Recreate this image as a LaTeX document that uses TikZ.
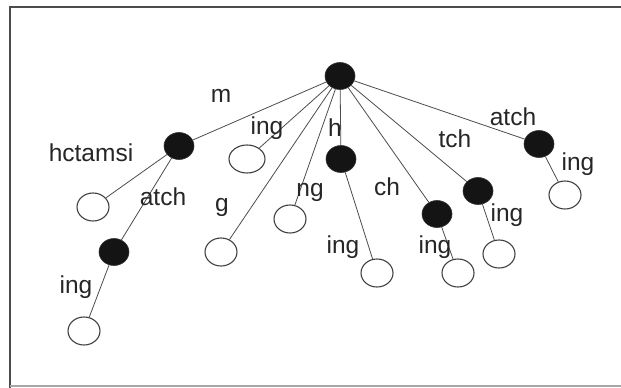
\documentclass[tikz,border=0pt]{standalone}
\usepackage{fontspec}
\setmainfont{Liberation Sans}
\usetikzlibrary{shapes.geometric}
\begin{document}
\begin{tikzpicture}[x=1pt,y=-1pt,
  full/.style={ellipse,fill=black!92,draw=black!80,line width=0.6pt,
    minimum width=30pt,minimum height=27pt,inner sep=0pt},
  leaf/.style={ellipse,fill=white,draw=black!75,line width=1.1pt,
    minimum width=32pt,minimum height=28pt,inner sep=0pt},
  lbl/.style={inner sep=0pt,text=black!85,font=\fontsize{24.5}{29}\selectfont},
  edge/.style={draw=black!70,line width=0.8pt}]
\useasboundingbox (0,0) rectangle (621,388);
% frame
\draw[black!70,line width=1.8pt] (10,388) -- (10,7) -- (621,7);
\draw[black!35,line width=1.5pt] (10,386) -- (621,386);

% branching nodes
\node[full] (root) at (340,76) {};
\node[full] (hc) at (179,146) {};
\node[full] (hca) at (114,252) {};
\node[full] (h) at (341,159) {};
\node[full] (ch) at (437,214) {};
\node[full] (tch) at (478,191) {};
\node[full] (atch) at (539,144) {};

% leaves
\node[leaf] (hcl) at (93,207) {};
\node[leaf] (hcal) at (84,331) {};
\node[leaf,minimum width=36pt] (ingl) at (247,159) {};
\node[leaf] (gl) at (221,252) {};
\node[leaf] (ngl) at (290,219) {};
\node[leaf] (hl) at (377,273) {};
\node[leaf] (chl) at (458,273) {};
\node[leaf] (tchl) at (499,254) {};
\node[leaf] (atchl) at (565,195) {};

% connectors
\foreach \t in {hc,ingl,gl,ngl,h,ch,tch,atch}
  \path[edge] (root) -- (\t);
\path[edge] (hc) -- (hcl);
\path[edge] (hc) -- (hca);
\path[edge] (hca) -- (hcal);
\path[edge] (h) -- (hl);
\path[edge] (ch) -- (chl);
\path[edge] (tch) -- (tchl);
\path[edge] (atch) -- (atchl);

% labels
\node[lbl] (tm) at (221,96) {m};
\node[lbl] (thc) at (91,153) {hctamsi};
\node[lbl] (ting1) at (267,128) {ing};
\node[lbl] (th) at (335,128) {h};
\node[lbl] (tatch1) at (163,197) {atch};
\node[lbl] (tg) at (222,207) {g};
\node[lbl] (tng) at (310,192) {ng};
\node[lbl] (tch1) at (387,187) {ch};
\node[lbl] (ttch) at (455,139) {tch};
\node[lbl] (tatch2) at (513,117) {atch};
\node[lbl] (ting2) at (578,164) {ing};
\node[lbl] (ting3) at (76,287) {ing};
\node[lbl] (ting4) at (343,247) {ing};
\node[lbl] (ting5) at (435,247) {ing};
\node[lbl] (ting6) at (507,215) {ing};
\end{tikzpicture}
\end{document}
